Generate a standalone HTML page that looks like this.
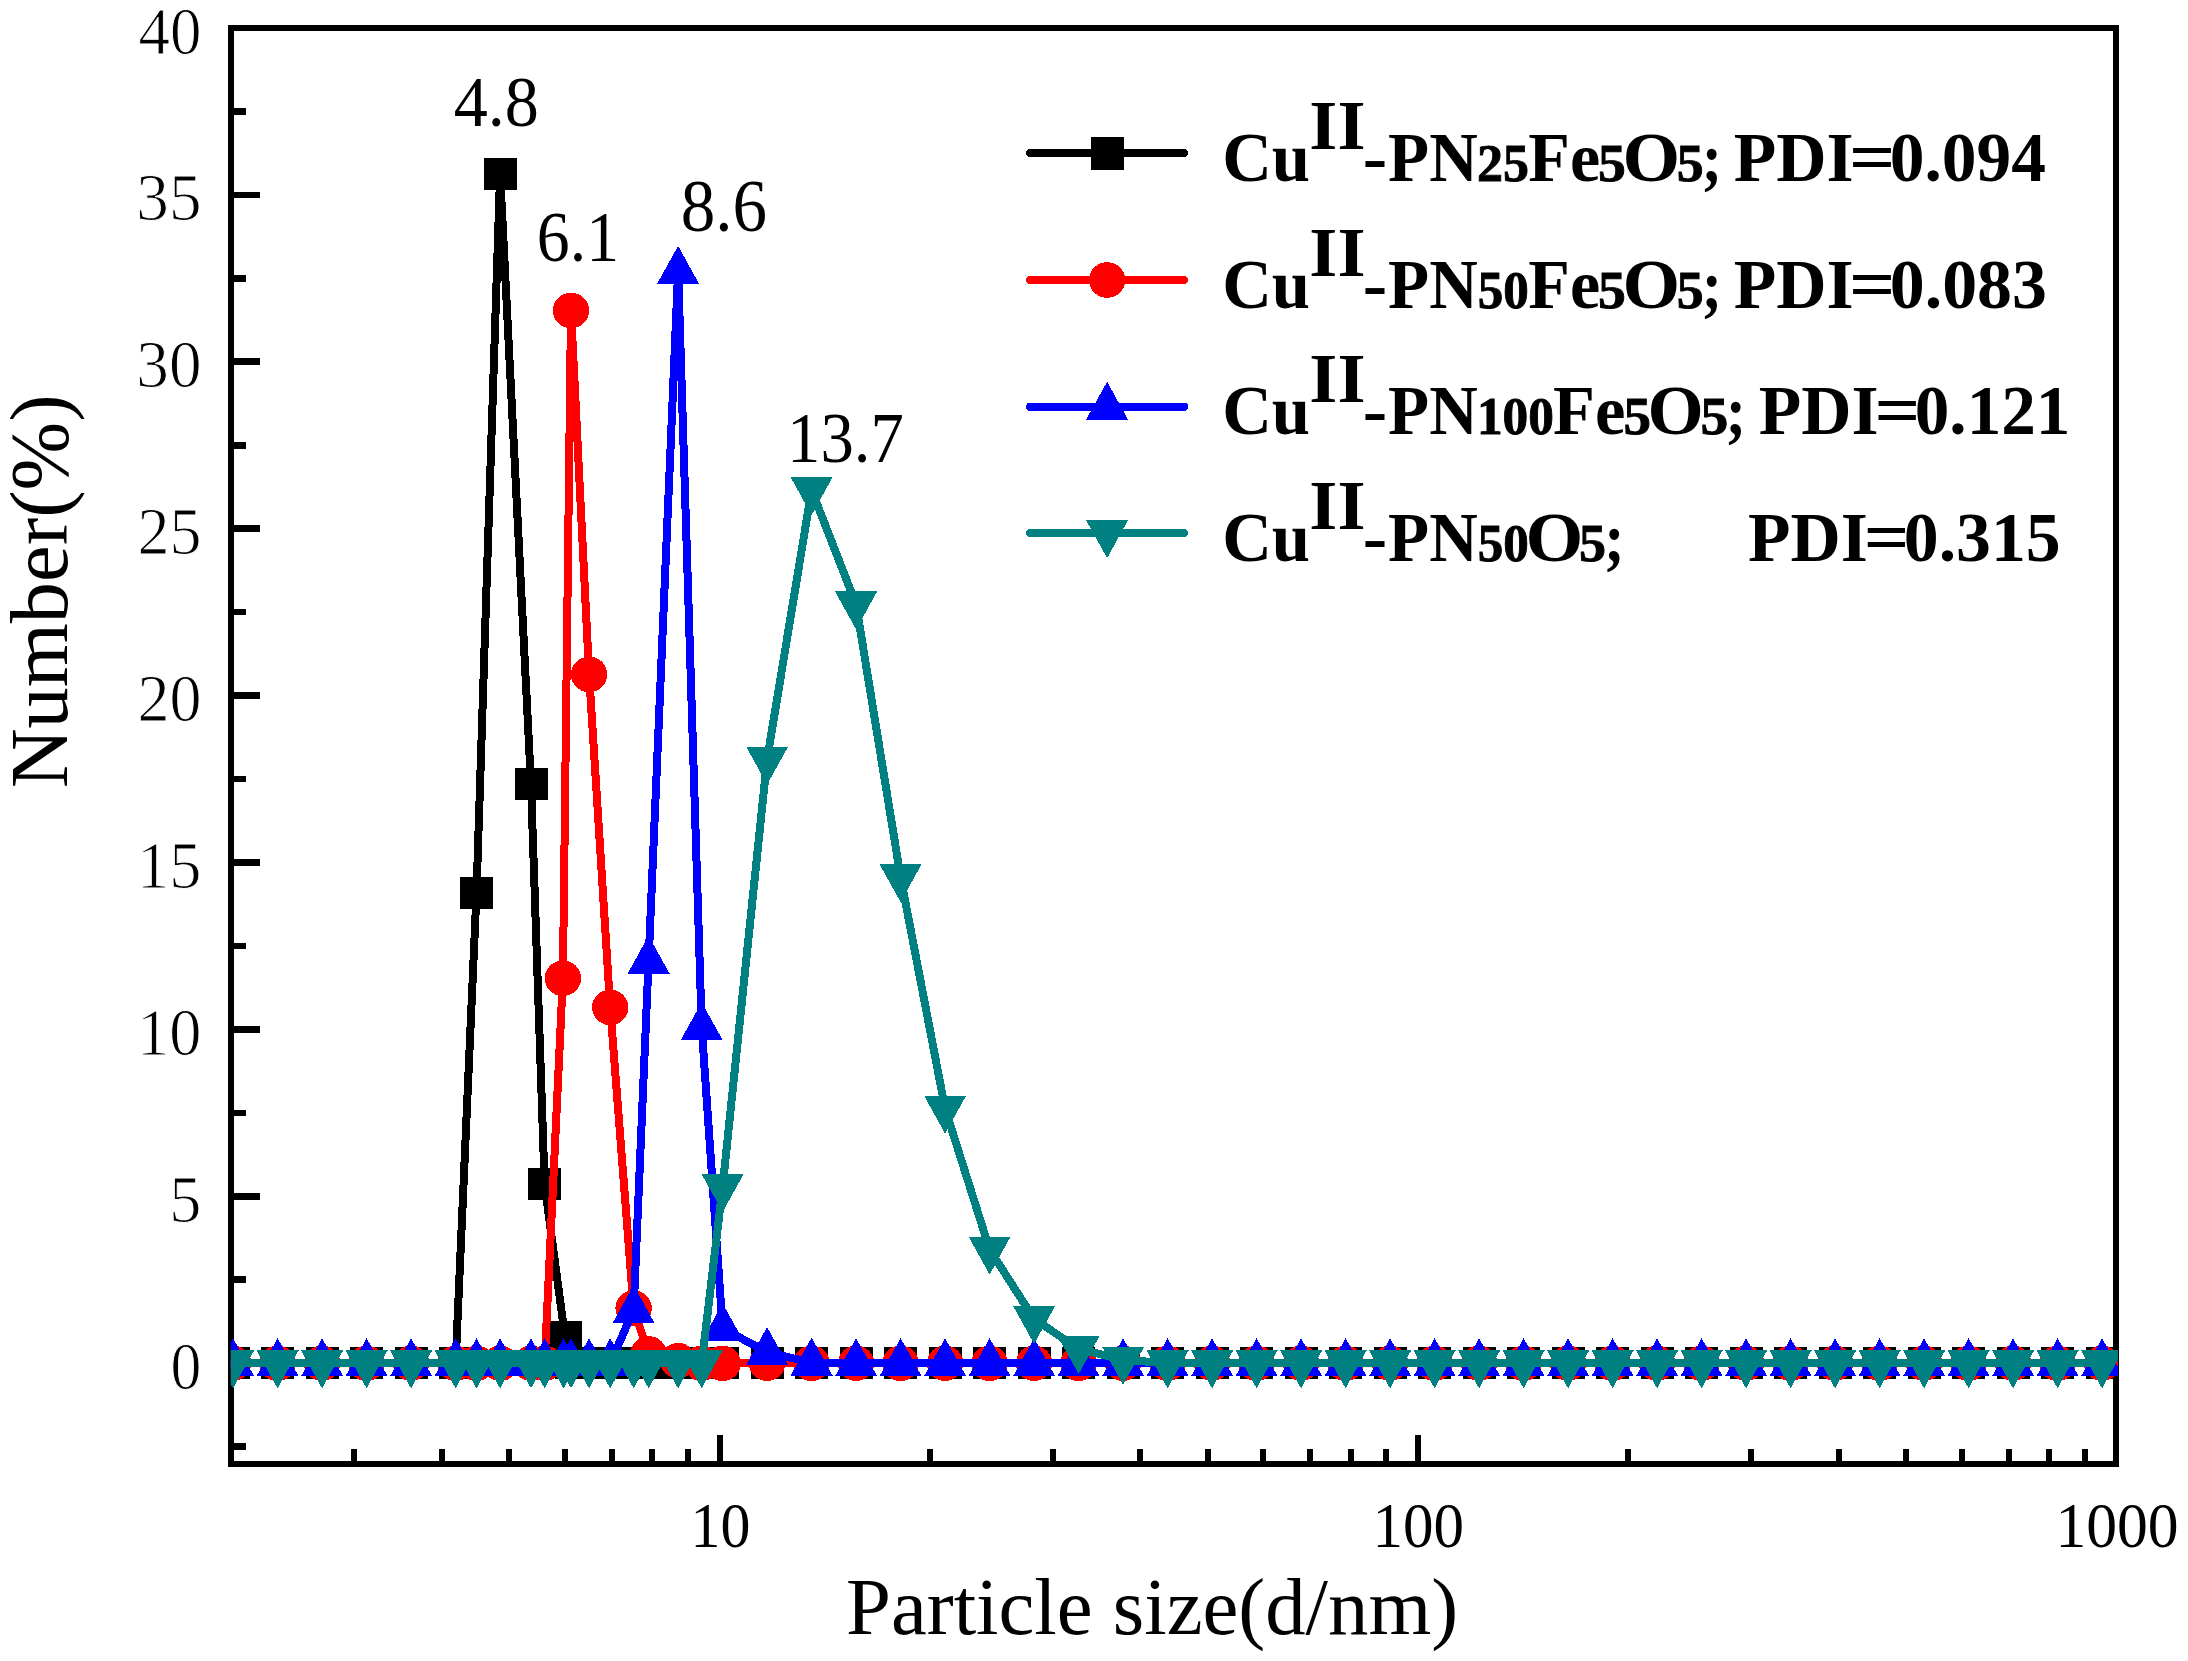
<!DOCTYPE html>
<html lang="en"><head><meta charset="utf-8"><title>Particle size distribution</title>
<style>
html,body{margin:0;padding:0;background:#fff;}
body{width:2188px;height:1661px;overflow:hidden;}
svg{display:block;}
text{font-family:"Liberation Serif","Times New Roman",Times,serif;fill:#000;}
.tk{font-size:61px;}
.ytk{font-size:64px;stroke:#fff;stroke-width:0.9px;}
.pk{font-size:69px;}
.ax{font-size:81px;}
.lg{font-size:70px;font-weight:bold;}
.sb{font-size:50px;font-weight:bold;}
</style></head><body>
<svg width="2188" height="1661" viewBox="0 0 2188 1661">
<rect x="0" y="0" width="2188" height="1661" fill="#ffffff"/>
<defs><clipPath id="plot"><rect x="230.8" y="28" width="1887.2" height="1436"/></clipPath></defs>
<g fill="#000">
<rect x="231" y="1360" width="29" height="6"/>
<rect x="231" y="1193" width="29" height="7"/>
<rect x="231" y="1026" width="29" height="7"/>
<rect x="231" y="859" width="29" height="7"/>
<rect x="231" y="692" width="29" height="7"/>
<rect x="231" y="525" width="29" height="7"/>
<rect x="231" y="358" width="29" height="7"/>
<rect x="231" y="192" width="29" height="6"/>
<rect x="231" y="1443" width="15" height="7"/>
<rect x="231" y="1276" width="15" height="7"/>
<rect x="231" y="1110" width="15" height="6"/>
<rect x="231" y="943" width="15" height="6"/>
<rect x="231" y="776" width="15" height="6"/>
<rect x="231" y="609" width="15" height="6"/>
<rect x="231" y="442" width="15" height="7"/>
<rect x="231" y="275" width="15" height="7"/>
<rect x="231" y="108" width="15" height="7"/>
<rect x="717" y="1435" width="6" height="29"/>
<rect x="1415" y="1435" width="6" height="29"/>
<rect x="351" y="1449" width="6" height="15"/>
<rect x="439" y="1449" width="6" height="15"/>
<rect x="506" y="1449" width="6" height="15"/>
<rect x="562" y="1449" width="6" height="15"/>
<rect x="609" y="1449" width="6" height="15"/>
<rect x="649" y="1449" width="6" height="15"/>
<rect x="685" y="1449" width="6" height="15"/>
<rect x="927" y="1449" width="6" height="15"/>
<rect x="1050" y="1449" width="6" height="15"/>
<rect x="1137" y="1449" width="6" height="15"/>
<rect x="1205" y="1449" width="6" height="15"/>
<rect x="1260" y="1449" width="6" height="15"/>
<rect x="1307" y="1449" width="6" height="15"/>
<rect x="1348" y="1449" width="6" height="15"/>
<rect x="1383" y="1449" width="6" height="15"/>
<rect x="1625" y="1449" width="6" height="15"/>
<rect x="1748" y="1449" width="6" height="15"/>
<rect x="1836" y="1449" width="6" height="15"/>
<rect x="1903" y="1449" width="6" height="15"/>
<rect x="1959" y="1449" width="6" height="15"/>
<rect x="2006" y="1449" width="6" height="15"/>
<rect x="2046" y="1449" width="6" height="15"/>
<rect x="2082" y="1449" width="6" height="15"/>
</g>
<rect x="231" y="28" width="1885" height="1436" fill="none" stroke="#000" stroke-width="6" shape-rendering="crispEdges"/>
<g clip-path="url(#plot)" shape-rendering="crispEdges">
<polyline points="233.1,1363.3 277.6,1363.3 322.1,1363.3 366.6,1363.3 411.1,1363.3 455.6,1363.3 476.5,892.9 500.1,173.8 531,783.9 544.6,1183.9 565,1337 571,1363.3 589.1,1363.3 610.2,1363.3 633.6,1363.3 648.6,1363.3 678.1,1363.3 701.7,1363.3 722.6,1363.3 767.1,1363.3 811.6,1363.3 856.1,1363.3 900.6,1363.3 945.1,1363.3 989.6,1363.3 1034.1,1363.3 1078.6,1363.3 1123.1,1363.3 1167.6,1363.3 1212.1,1363.3 1256.6,1363.3 1301.1,1363.3 1345.6,1363.3 1390.1,1363.3 1434.6,1363.3 1479.1,1363.3 1523.6,1363.3 1568.1,1363.3 1612.6,1363.3 1657.1,1363.3 1701.6,1363.3 1746.1,1363.3 1790.6,1363.3 1835.1,1363.3 1879.6,1363.3 1924.1,1363.3 1968.6,1363.3 2013.1,1363.3 2057.6,1363.3 2102.1,1363.3" fill="none" stroke="#000000" stroke-width="8.0" stroke-linejoin="round" stroke-linecap="round"/>
<rect x="216.8" y="1347.3" width="33" height="32" fill="#000000"/>
<rect x="261.3" y="1347.3" width="33" height="32" fill="#000000"/>
<rect x="305.8" y="1347.3" width="33" height="32" fill="#000000"/>
<rect x="350.3" y="1347.3" width="33" height="32" fill="#000000"/>
<rect x="394.8" y="1347.3" width="33" height="32" fill="#000000"/>
<rect x="439.3" y="1347.3" width="33" height="32" fill="#000000"/>
<rect x="460.2" y="876.9" width="33" height="32" fill="#000000"/>
<rect x="483.8" y="157.8" width="33" height="32" fill="#000000"/>
<rect x="514.7" y="767.9" width="33" height="32" fill="#000000"/>
<rect x="528.3" y="1167.9" width="33" height="32" fill="#000000"/>
<rect x="548.7" y="1321" width="33" height="32" fill="#000000"/>
<rect x="554.7" y="1347.3" width="33" height="32" fill="#000000"/>
<rect x="572.8" y="1347.3" width="33" height="32" fill="#000000"/>
<rect x="593.9" y="1347.3" width="33" height="32" fill="#000000"/>
<rect x="617.3" y="1347.3" width="33" height="32" fill="#000000"/>
<rect x="632.3" y="1347.3" width="33" height="32" fill="#000000"/>
<rect x="661.8" y="1347.3" width="33" height="32" fill="#000000"/>
<rect x="685.4" y="1347.3" width="33" height="32" fill="#000000"/>
<rect x="706.3" y="1347.3" width="33" height="32" fill="#000000"/>
<rect x="750.8" y="1347.3" width="33" height="32" fill="#000000"/>
<rect x="795.3" y="1347.3" width="33" height="32" fill="#000000"/>
<rect x="839.8" y="1347.3" width="33" height="32" fill="#000000"/>
<rect x="884.3" y="1347.3" width="33" height="32" fill="#000000"/>
<rect x="928.8" y="1347.3" width="33" height="32" fill="#000000"/>
<rect x="973.3" y="1347.3" width="33" height="32" fill="#000000"/>
<rect x="1017.8" y="1347.3" width="33" height="32" fill="#000000"/>
<rect x="1062.3" y="1347.3" width="33" height="32" fill="#000000"/>
<rect x="1106.8" y="1347.3" width="33" height="32" fill="#000000"/>
<rect x="1151.3" y="1347.3" width="33" height="32" fill="#000000"/>
<rect x="1195.8" y="1347.3" width="33" height="32" fill="#000000"/>
<rect x="1240.3" y="1347.3" width="33" height="32" fill="#000000"/>
<rect x="1284.8" y="1347.3" width="33" height="32" fill="#000000"/>
<rect x="1329.3" y="1347.3" width="33" height="32" fill="#000000"/>
<rect x="1373.8" y="1347.3" width="33" height="32" fill="#000000"/>
<rect x="1418.3" y="1347.3" width="33" height="32" fill="#000000"/>
<rect x="1462.8" y="1347.3" width="33" height="32" fill="#000000"/>
<rect x="1507.3" y="1347.3" width="33" height="32" fill="#000000"/>
<rect x="1551.8" y="1347.3" width="33" height="32" fill="#000000"/>
<rect x="1596.3" y="1347.3" width="33" height="32" fill="#000000"/>
<rect x="1640.8" y="1347.3" width="33" height="32" fill="#000000"/>
<rect x="1685.3" y="1347.3" width="33" height="32" fill="#000000"/>
<rect x="1729.8" y="1347.3" width="33" height="32" fill="#000000"/>
<rect x="1774.3" y="1347.3" width="33" height="32" fill="#000000"/>
<rect x="1818.8" y="1347.3" width="33" height="32" fill="#000000"/>
<rect x="1863.3" y="1347.3" width="33" height="32" fill="#000000"/>
<rect x="1907.8" y="1347.3" width="33" height="32" fill="#000000"/>
<rect x="1952.3" y="1347.3" width="33" height="32" fill="#000000"/>
<rect x="1996.8" y="1347.3" width="33" height="32" fill="#000000"/>
<rect x="2041.3" y="1347.3" width="33" height="32" fill="#000000"/>
<rect x="2085.8" y="1347.3" width="33" height="32" fill="#000000"/>
<polyline points="233.1,1363.3 277.6,1363.3 322.1,1363.3 366.6,1363.3 411.1,1363.3 455.6,1363.3 476.5,1363.3 500.1,1363.3 531,1363.3 544.6,1363.3 562.9,978.3 571,310.5 589.1,674.4 610.2,1007.4 633.6,1308.2 648.6,1353.9 678.1,1360.7 701.7,1363.3 722.6,1363.3 767.1,1363.3 811.6,1363.3 856.1,1363.3 900.6,1363.3 945.1,1363.3 989.6,1363.3 1034.1,1363.3 1078.6,1363.3 1123.1,1363.3 1167.6,1363.3 1212.1,1363.3 1256.6,1363.3 1301.1,1363.3 1345.6,1363.3 1390.1,1363.3 1434.6,1363.3 1479.1,1363.3 1523.6,1363.3 1568.1,1363.3 1612.6,1363.3 1657.1,1363.3 1701.6,1363.3 1746.1,1363.3 1790.6,1363.3 1835.1,1363.3 1879.6,1363.3 1924.1,1363.3 1968.6,1363.3 2013.1,1363.3 2057.6,1363.3 2102.1,1363.3" fill="none" stroke="#ff0000" stroke-width="8.0" stroke-linejoin="round" stroke-linecap="round"/>
<ellipse cx="233.1" cy="1363.3" rx="18.2" ry="17.8" fill="#ff0000"/>
<ellipse cx="277.6" cy="1363.3" rx="18.2" ry="17.8" fill="#ff0000"/>
<ellipse cx="322.1" cy="1363.3" rx="18.2" ry="17.8" fill="#ff0000"/>
<ellipse cx="366.6" cy="1363.3" rx="18.2" ry="17.8" fill="#ff0000"/>
<ellipse cx="411.1" cy="1363.3" rx="18.2" ry="17.8" fill="#ff0000"/>
<ellipse cx="455.6" cy="1363.3" rx="18.2" ry="17.8" fill="#ff0000"/>
<ellipse cx="476.5" cy="1363.3" rx="18.2" ry="17.8" fill="#ff0000"/>
<ellipse cx="500.1" cy="1363.3" rx="18.2" ry="17.8" fill="#ff0000"/>
<ellipse cx="531" cy="1363.3" rx="18.2" ry="17.8" fill="#ff0000"/>
<ellipse cx="544.6" cy="1363.3" rx="18.2" ry="17.8" fill="#ff0000"/>
<ellipse cx="562.9" cy="978.3" rx="18.2" ry="17.8" fill="#ff0000"/>
<ellipse cx="571" cy="310.5" rx="18.2" ry="17.8" fill="#ff0000"/>
<ellipse cx="589.1" cy="674.4" rx="18.2" ry="17.8" fill="#ff0000"/>
<ellipse cx="610.2" cy="1007.4" rx="18.2" ry="17.8" fill="#ff0000"/>
<ellipse cx="633.6" cy="1308.2" rx="18.2" ry="17.8" fill="#ff0000"/>
<ellipse cx="648.6" cy="1353.9" rx="18.2" ry="17.8" fill="#ff0000"/>
<ellipse cx="678.1" cy="1360.7" rx="18.2" ry="17.8" fill="#ff0000"/>
<ellipse cx="701.7" cy="1363.3" rx="18.2" ry="17.8" fill="#ff0000"/>
<ellipse cx="722.6" cy="1363.3" rx="18.2" ry="17.8" fill="#ff0000"/>
<ellipse cx="767.1" cy="1363.3" rx="18.2" ry="17.8" fill="#ff0000"/>
<ellipse cx="811.6" cy="1363.3" rx="18.2" ry="17.8" fill="#ff0000"/>
<ellipse cx="856.1" cy="1363.3" rx="18.2" ry="17.8" fill="#ff0000"/>
<ellipse cx="900.6" cy="1363.3" rx="18.2" ry="17.8" fill="#ff0000"/>
<ellipse cx="945.1" cy="1363.3" rx="18.2" ry="17.8" fill="#ff0000"/>
<ellipse cx="989.6" cy="1363.3" rx="18.2" ry="17.8" fill="#ff0000"/>
<ellipse cx="1034.1" cy="1363.3" rx="18.2" ry="17.8" fill="#ff0000"/>
<ellipse cx="1078.6" cy="1363.3" rx="18.2" ry="17.8" fill="#ff0000"/>
<ellipse cx="1123.1" cy="1363.3" rx="18.2" ry="17.8" fill="#ff0000"/>
<ellipse cx="1167.6" cy="1363.3" rx="18.2" ry="17.8" fill="#ff0000"/>
<ellipse cx="1212.1" cy="1363.3" rx="18.2" ry="17.8" fill="#ff0000"/>
<ellipse cx="1256.6" cy="1363.3" rx="18.2" ry="17.8" fill="#ff0000"/>
<ellipse cx="1301.1" cy="1363.3" rx="18.2" ry="17.8" fill="#ff0000"/>
<ellipse cx="1345.6" cy="1363.3" rx="18.2" ry="17.8" fill="#ff0000"/>
<ellipse cx="1390.1" cy="1363.3" rx="18.2" ry="17.8" fill="#ff0000"/>
<ellipse cx="1434.6" cy="1363.3" rx="18.2" ry="17.8" fill="#ff0000"/>
<ellipse cx="1479.1" cy="1363.3" rx="18.2" ry="17.8" fill="#ff0000"/>
<ellipse cx="1523.6" cy="1363.3" rx="18.2" ry="17.8" fill="#ff0000"/>
<ellipse cx="1568.1" cy="1363.3" rx="18.2" ry="17.8" fill="#ff0000"/>
<ellipse cx="1612.6" cy="1363.3" rx="18.2" ry="17.8" fill="#ff0000"/>
<ellipse cx="1657.1" cy="1363.3" rx="18.2" ry="17.8" fill="#ff0000"/>
<ellipse cx="1701.6" cy="1363.3" rx="18.2" ry="17.8" fill="#ff0000"/>
<ellipse cx="1746.1" cy="1363.3" rx="18.2" ry="17.8" fill="#ff0000"/>
<ellipse cx="1790.6" cy="1363.3" rx="18.2" ry="17.8" fill="#ff0000"/>
<ellipse cx="1835.1" cy="1363.3" rx="18.2" ry="17.8" fill="#ff0000"/>
<ellipse cx="1879.6" cy="1363.3" rx="18.2" ry="17.8" fill="#ff0000"/>
<ellipse cx="1924.1" cy="1363.3" rx="18.2" ry="17.8" fill="#ff0000"/>
<ellipse cx="1968.6" cy="1363.3" rx="18.2" ry="17.8" fill="#ff0000"/>
<ellipse cx="2013.1" cy="1363.3" rx="18.2" ry="17.8" fill="#ff0000"/>
<ellipse cx="2057.6" cy="1363.3" rx="18.2" ry="17.8" fill="#ff0000"/>
<ellipse cx="2102.1" cy="1363.3" rx="18.2" ry="17.8" fill="#ff0000"/>
<polyline points="233.1,1363.3 277.6,1363.3 322.1,1363.3 366.6,1363.3 411.1,1363.3 455.6,1363.3 476.5,1363.3 500.1,1363.3 531,1363.3 544.6,1363.3 563.5,1363.3 571,1363.3 589.1,1363.3 610.2,1363.3 633.6,1310.3 648.6,960.8 678.1,271 701.7,1027.3 722.6,1328.4 767.1,1352.1 811.6,1362.7 856.1,1363.3 900.6,1363.3 945.1,1363.3 989.6,1363.3 1034.1,1363.3 1078.6,1363.3 1123.1,1363.3 1167.6,1363.3 1212.1,1363.3 1256.6,1363.3 1301.1,1363.3 1345.6,1363.3 1390.1,1363.3 1434.6,1363.3 1479.1,1363.3 1523.6,1363.3 1568.1,1363.3 1612.6,1363.3 1657.1,1363.3 1701.6,1363.3 1746.1,1363.3 1790.6,1363.3 1835.1,1363.3 1879.6,1363.3 1924.1,1363.3 1968.6,1363.3 2013.1,1363.3 2057.6,1363.3 2102.1,1363.3" fill="none" stroke="#0000ff" stroke-width="8.0" stroke-linejoin="round" stroke-linecap="round"/>
<polygon points="233.1,1338.2 212,1376.3 254.2,1376.3" fill="#0000ff"/>
<polygon points="277.6,1338.2 256.5,1376.3 298.7,1376.3" fill="#0000ff"/>
<polygon points="322.1,1338.2 301,1376.3 343.2,1376.3" fill="#0000ff"/>
<polygon points="366.6,1338.2 345.5,1376.3 387.7,1376.3" fill="#0000ff"/>
<polygon points="411.1,1338.2 390,1376.3 432.2,1376.3" fill="#0000ff"/>
<polygon points="455.6,1338.2 434.5,1376.3 476.7,1376.3" fill="#0000ff"/>
<polygon points="476.5,1338.2 455.4,1376.3 497.6,1376.3" fill="#0000ff"/>
<polygon points="500.1,1338.2 479,1376.3 521.2,1376.3" fill="#0000ff"/>
<polygon points="531,1338.2 509.9,1376.3 552.1,1376.3" fill="#0000ff"/>
<polygon points="544.6,1338.2 523.5,1376.3 565.7,1376.3" fill="#0000ff"/>
<polygon points="563.5,1338.2 542.4,1376.3 584.6,1376.3" fill="#0000ff"/>
<polygon points="571,1338.2 549.9,1376.3 592.1,1376.3" fill="#0000ff"/>
<polygon points="589.1,1338.2 568,1376.3 610.2,1376.3" fill="#0000ff"/>
<polygon points="610.2,1338.2 589.1,1376.3 631.3,1376.3" fill="#0000ff"/>
<polygon points="633.6,1285.2 612.5,1323.3 654.7,1323.3" fill="#0000ff"/>
<polygon points="648.6,935.7 627.5,973.8 669.7,973.8" fill="#0000ff"/>
<polygon points="678.1,245.9 657,284 699.2,284" fill="#0000ff"/>
<polygon points="701.7,1002.2 680.6,1040.3 722.8,1040.3" fill="#0000ff"/>
<polygon points="722.6,1303.3 701.5,1341.4 743.7,1341.4" fill="#0000ff"/>
<polygon points="767.1,1327 746,1365.1 788.2,1365.1" fill="#0000ff"/>
<polygon points="811.6,1337.6 790.5,1375.7 832.7,1375.7" fill="#0000ff"/>
<polygon points="856.1,1338.2 835,1376.3 877.2,1376.3" fill="#0000ff"/>
<polygon points="900.6,1338.2 879.5,1376.3 921.7,1376.3" fill="#0000ff"/>
<polygon points="945.1,1338.2 924,1376.3 966.2,1376.3" fill="#0000ff"/>
<polygon points="989.6,1338.2 968.5,1376.3 1010.7,1376.3" fill="#0000ff"/>
<polygon points="1034.1,1338.2 1013,1376.3 1055.2,1376.3" fill="#0000ff"/>
<polygon points="1078.6,1338.2 1057.5,1376.3 1099.7,1376.3" fill="#0000ff"/>
<polygon points="1123.1,1338.2 1102,1376.3 1144.2,1376.3" fill="#0000ff"/>
<polygon points="1167.6,1338.2 1146.5,1376.3 1188.7,1376.3" fill="#0000ff"/>
<polygon points="1212.1,1338.2 1191,1376.3 1233.2,1376.3" fill="#0000ff"/>
<polygon points="1256.6,1338.2 1235.5,1376.3 1277.7,1376.3" fill="#0000ff"/>
<polygon points="1301.1,1338.2 1280,1376.3 1322.2,1376.3" fill="#0000ff"/>
<polygon points="1345.6,1338.2 1324.5,1376.3 1366.7,1376.3" fill="#0000ff"/>
<polygon points="1390.1,1338.2 1369,1376.3 1411.2,1376.3" fill="#0000ff"/>
<polygon points="1434.6,1338.2 1413.5,1376.3 1455.7,1376.3" fill="#0000ff"/>
<polygon points="1479.1,1338.2 1458,1376.3 1500.2,1376.3" fill="#0000ff"/>
<polygon points="1523.6,1338.2 1502.5,1376.3 1544.7,1376.3" fill="#0000ff"/>
<polygon points="1568.1,1338.2 1547,1376.3 1589.2,1376.3" fill="#0000ff"/>
<polygon points="1612.6,1338.2 1591.5,1376.3 1633.7,1376.3" fill="#0000ff"/>
<polygon points="1657.1,1338.2 1636,1376.3 1678.2,1376.3" fill="#0000ff"/>
<polygon points="1701.6,1338.2 1680.5,1376.3 1722.7,1376.3" fill="#0000ff"/>
<polygon points="1746.1,1338.2 1725,1376.3 1767.2,1376.3" fill="#0000ff"/>
<polygon points="1790.6,1338.2 1769.5,1376.3 1811.7,1376.3" fill="#0000ff"/>
<polygon points="1835.1,1338.2 1814,1376.3 1856.2,1376.3" fill="#0000ff"/>
<polygon points="1879.6,1338.2 1858.5,1376.3 1900.7,1376.3" fill="#0000ff"/>
<polygon points="1924.1,1338.2 1903,1376.3 1945.2,1376.3" fill="#0000ff"/>
<polygon points="1968.6,1338.2 1947.5,1376.3 1989.7,1376.3" fill="#0000ff"/>
<polygon points="2013.1,1338.2 1992,1376.3 2034.2,1376.3" fill="#0000ff"/>
<polygon points="2057.6,1338.2 2036.5,1376.3 2078.7,1376.3" fill="#0000ff"/>
<polygon points="2102.1,1338.2 2081,1376.3 2123.2,1376.3" fill="#0000ff"/>
<polyline points="233.1,1363.3 277.6,1363.3 322.1,1363.3 366.6,1363.3 411.1,1363.3 455.6,1363.3 476.5,1363.3 500.1,1363.3 531,1363.3 544.6,1363.3 563.5,1363.3 571,1363.3 589.1,1363.3 610.2,1363.3 633.6,1363.3 648.6,1363.3 678.1,1363.3 701.7,1363.3 722.6,1187 767.1,759.5 811.6,490 856.1,604.4 900.6,877.1 945.1,1108.6 989.6,1249.5 1034.1,1318.9 1078.6,1348.9 1123.1,1359.7 1167.6,1363.3 1212.1,1363.3 1256.6,1363.3 1301.1,1363.3 1345.6,1363.3 1390.1,1363.3 1434.6,1363.3 1479.1,1363.3 1523.6,1363.3 1568.1,1363.3 1612.6,1363.3 1657.1,1363.3 1701.6,1363.3 1746.1,1363.3 1790.6,1363.3 1835.1,1363.3 1879.6,1363.3 1924.1,1363.3 1968.6,1363.3 2013.1,1363.3 2057.6,1363.3 2102.1,1363.3" fill="none" stroke="#008080" stroke-width="8.0" stroke-linejoin="round" stroke-linecap="round"/>
<polygon points="233.1,1388.4 212,1350.3 254.2,1350.3" fill="#008080"/>
<polygon points="277.6,1388.4 256.5,1350.3 298.7,1350.3" fill="#008080"/>
<polygon points="322.1,1388.4 301,1350.3 343.2,1350.3" fill="#008080"/>
<polygon points="366.6,1388.4 345.5,1350.3 387.7,1350.3" fill="#008080"/>
<polygon points="411.1,1388.4 390,1350.3 432.2,1350.3" fill="#008080"/>
<polygon points="455.6,1388.4 434.5,1350.3 476.7,1350.3" fill="#008080"/>
<polygon points="476.5,1388.4 455.4,1350.3 497.6,1350.3" fill="#008080"/>
<polygon points="500.1,1388.4 479,1350.3 521.2,1350.3" fill="#008080"/>
<polygon points="531,1388.4 509.9,1350.3 552.1,1350.3" fill="#008080"/>
<polygon points="544.6,1388.4 523.5,1350.3 565.7,1350.3" fill="#008080"/>
<polygon points="563.5,1388.4 542.4,1350.3 584.6,1350.3" fill="#008080"/>
<polygon points="571,1388.4 549.9,1350.3 592.1,1350.3" fill="#008080"/>
<polygon points="589.1,1388.4 568,1350.3 610.2,1350.3" fill="#008080"/>
<polygon points="610.2,1388.4 589.1,1350.3 631.3,1350.3" fill="#008080"/>
<polygon points="633.6,1388.4 612.5,1350.3 654.7,1350.3" fill="#008080"/>
<polygon points="648.6,1388.4 627.5,1350.3 669.7,1350.3" fill="#008080"/>
<polygon points="678.1,1388.4 657,1350.3 699.2,1350.3" fill="#008080"/>
<polygon points="701.7,1388.4 680.6,1350.3 722.8,1350.3" fill="#008080"/>
<polygon points="722.6,1212.1 701.5,1174 743.7,1174" fill="#008080"/>
<polygon points="767.1,784.6 746,746.5 788.2,746.5" fill="#008080"/>
<polygon points="811.6,515.1 790.5,477 832.7,477" fill="#008080"/>
<polygon points="856.1,629.5 835,591.4 877.2,591.4" fill="#008080"/>
<polygon points="900.6,902.2 879.5,864.1 921.7,864.1" fill="#008080"/>
<polygon points="945.1,1133.7 924,1095.6 966.2,1095.6" fill="#008080"/>
<polygon points="989.6,1274.6 968.5,1236.5 1010.7,1236.5" fill="#008080"/>
<polygon points="1034.1,1344 1013,1305.9 1055.2,1305.9" fill="#008080"/>
<polygon points="1078.6,1374 1057.5,1335.9 1099.7,1335.9" fill="#008080"/>
<polygon points="1123.1,1384.8 1102,1346.7 1144.2,1346.7" fill="#008080"/>
<polygon points="1167.6,1388.4 1146.5,1350.3 1188.7,1350.3" fill="#008080"/>
<polygon points="1212.1,1388.4 1191,1350.3 1233.2,1350.3" fill="#008080"/>
<polygon points="1256.6,1388.4 1235.5,1350.3 1277.7,1350.3" fill="#008080"/>
<polygon points="1301.1,1388.4 1280,1350.3 1322.2,1350.3" fill="#008080"/>
<polygon points="1345.6,1388.4 1324.5,1350.3 1366.7,1350.3" fill="#008080"/>
<polygon points="1390.1,1388.4 1369,1350.3 1411.2,1350.3" fill="#008080"/>
<polygon points="1434.6,1388.4 1413.5,1350.3 1455.7,1350.3" fill="#008080"/>
<polygon points="1479.1,1388.4 1458,1350.3 1500.2,1350.3" fill="#008080"/>
<polygon points="1523.6,1388.4 1502.5,1350.3 1544.7,1350.3" fill="#008080"/>
<polygon points="1568.1,1388.4 1547,1350.3 1589.2,1350.3" fill="#008080"/>
<polygon points="1612.6,1388.4 1591.5,1350.3 1633.7,1350.3" fill="#008080"/>
<polygon points="1657.1,1388.4 1636,1350.3 1678.2,1350.3" fill="#008080"/>
<polygon points="1701.6,1388.4 1680.5,1350.3 1722.7,1350.3" fill="#008080"/>
<polygon points="1746.1,1388.4 1725,1350.3 1767.2,1350.3" fill="#008080"/>
<polygon points="1790.6,1388.4 1769.5,1350.3 1811.7,1350.3" fill="#008080"/>
<polygon points="1835.1,1388.4 1814,1350.3 1856.2,1350.3" fill="#008080"/>
<polygon points="1879.6,1388.4 1858.5,1350.3 1900.7,1350.3" fill="#008080"/>
<polygon points="1924.1,1388.4 1903,1350.3 1945.2,1350.3" fill="#008080"/>
<polygon points="1968.6,1388.4 1947.5,1350.3 1989.7,1350.3" fill="#008080"/>
<polygon points="2013.1,1388.4 1992,1350.3 2034.2,1350.3" fill="#008080"/>
<polygon points="2057.6,1388.4 2036.5,1350.3 2078.7,1350.3" fill="#008080"/>
<polygon points="2102.1,1388.4 2081,1350.3 2123.2,1350.3" fill="#008080"/>
</g>
<g shape-rendering="crispEdges">
<line x1="1030" y1="153" x2="1184.2" y2="153" stroke="#000000" stroke-width="8.0" stroke-linecap="round"/>
<rect x="1091" y="136.9" width="33" height="33" fill="#000000"/>
<line x1="1030" y1="280" x2="1184.2" y2="280" stroke="#ff0000" stroke-width="8.0" stroke-linecap="round"/>
<ellipse cx="1107.1" cy="280" rx="18.2" ry="17.8" fill="#ff0000"/>
<line x1="1030" y1="406.8" x2="1184.2" y2="406.8" stroke="#0000ff" stroke-width="8.0" stroke-linecap="round"/>
<polygon points="1107.1,381.7 1086,419.8 1128.2,419.8" fill="#0000ff"/>
<line x1="1030" y1="533" x2="1184.2" y2="533" stroke="#008080" stroke-width="8.0" stroke-linecap="round"/>
<polygon points="1107.1,558.1 1086,520 1128.2,520" fill="#008080"/>
</g>
<text class="ytk" transform="translate(170.404 1388.75) scale(0.965 1.059)">0</text>
<text class="ytk" transform="translate(169.284 1221.85) scale(1.004 1.059)">5</text>
<text class="ytk" transform="translate(137.061 1054.95) scale(1.006 1.059)">10</text>
<text class="ytk" transform="translate(137.061 888.05) scale(1.006 1.059)">15</text>
<text class="ytk" transform="translate(137.4 721.15) scale(1 1.059)">20</text>
<text class="ytk" transform="translate(137.4 554.25) scale(1 1.059)">25</text>
<text class="ytk" transform="translate(136.33 387.35) scale(1.018 1.059)">30</text>
<text class="ytk" transform="translate(136.33 220.45) scale(1.018 1.059)">35</text>
<text class="ytk" transform="translate(138.434 53.55) scale(0.983 1.059)">40</text>
<text class="tk" transform="translate(690.493 1547) scale(0.981 1.038)">10</text>
<text class="tk" transform="translate(1372.494 1547) scale(1.001 1.038)">100</text>
<text class="tk" transform="translate(2055.452 1547) scale(1.01 1.038)">1000</text>
<text class="ax" transform="translate(846.006 1634.433) scale(0.997 0.986)">Particle size(d/nm)</text>
<text class="ax" transform="translate(66.59 788.037) rotate(-90) scale(1.018 1.012)">Number(%)</text>
<text class="pk" transform="translate(453.712 126.3) scale(0.988 1.054)">4.8</text>
<text class="pk" transform="translate(680.696 231) scale(1.001 1.059)">8.6</text>
<text class="pk" transform="translate(536.841 260.9) scale(0.953 1.048)">6.1</text>
<text class="pk" transform="translate(787.102 461.8) scale(0.966 1.043)">13.7</text>
<text class="lg"><tspan x="1222.153" y="181.2" font-size="70.457" textLength="87.905" lengthAdjust="spacingAndGlyphs">Cu</tspan><tspan x="1309.34" y="149.2" font-size="70.457" textLength="56.119" lengthAdjust="spacingAndGlyphs">II</tspan><tspan x="1362.75" y="181.2" font-size="70.457" textLength="24.478" lengthAdjust="spacingAndGlyphs">-</tspan><tspan x="1388.038" y="181.2" font-size="70.457" textLength="89.724" lengthAdjust="spacingAndGlyphs">PN</tspan><tspan x="1476.922" y="181.2" font-size="53.333" textLength="51.957" lengthAdjust="spacingAndGlyphs" stroke="#000" stroke-width="0.9">25</tspan><tspan x="1528.327" y="181.2" font-size="70.457" textLength="71.852" lengthAdjust="spacingAndGlyphs">Fe</tspan><tspan x="1597.971" y="181.2" font-size="53.333" textLength="27.857" lengthAdjust="spacingAndGlyphs" stroke="#000" stroke-width="0.9">5</tspan><tspan x="1622.425" y="181.2" font-size="70.457" textLength="57.63" lengthAdjust="spacingAndGlyphs">O</tspan><tspan x="1676.748" y="181.2" font-size="53.333" textLength="26.905" lengthAdjust="spacingAndGlyphs" stroke="#000" stroke-width="0.9">5</tspan><tspan x="1701.823" y="181.2" font-size="70.457" textLength="20.264" lengthAdjust="spacingAndGlyphs">;</tspan> <tspan x="1733.704" y="181.2" font-size="70.457" textLength="120.047" lengthAdjust="spacingAndGlyphs">PDI</tspan><tspan x="1849.109" y="181.2" font-size="70.457" textLength="46.418" lengthAdjust="spacingAndGlyphs">=</tspan><tspan x="1889.724" y="181.2" font-size="70.457" textLength="156.265" lengthAdjust="spacingAndGlyphs">0.094</tspan></text>
<text class="lg"><tspan x="1222.153" y="308.1" font-size="70.457" textLength="87.905" lengthAdjust="spacingAndGlyphs">Cu</tspan><tspan x="1309.34" y="276.1" font-size="70.457" textLength="56.119" lengthAdjust="spacingAndGlyphs">II</tspan><tspan x="1362.75" y="308.1" font-size="70.457" textLength="24.478" lengthAdjust="spacingAndGlyphs">-</tspan><tspan x="1388.038" y="308.1" font-size="70.457" textLength="89.724" lengthAdjust="spacingAndGlyphs">PN</tspan><tspan x="1477.757" y="308.1" font-size="53.333" textLength="51.087" lengthAdjust="spacingAndGlyphs" stroke="#000" stroke-width="0.9">50</tspan><tspan x="1528.327" y="308.1" font-size="70.457" textLength="71.852" lengthAdjust="spacingAndGlyphs">Fe</tspan><tspan x="1597.971" y="308.1" font-size="53.333" textLength="27.857" lengthAdjust="spacingAndGlyphs" stroke="#000" stroke-width="0.9">5</tspan><tspan x="1622.425" y="308.1" font-size="70.457" textLength="57.63" lengthAdjust="spacingAndGlyphs">O</tspan><tspan x="1676.748" y="308.1" font-size="53.333" textLength="26.905" lengthAdjust="spacingAndGlyphs" stroke="#000" stroke-width="0.9">5</tspan><tspan x="1701.823" y="308.1" font-size="70.457" textLength="20.264" lengthAdjust="spacingAndGlyphs">;</tspan> <tspan x="1733.704" y="308.1" font-size="70.457" textLength="120.047" lengthAdjust="spacingAndGlyphs">PDI</tspan><tspan x="1849.109" y="308.1" font-size="70.457" textLength="46.418" lengthAdjust="spacingAndGlyphs">=</tspan><tspan x="1889.704" y="308.1" font-size="70.457" textLength="157.293" lengthAdjust="spacingAndGlyphs">0.083</tspan></text>
<text class="lg"><tspan x="1222.153" y="434" font-size="70.457" textLength="87.905" lengthAdjust="spacingAndGlyphs">Cu</tspan><tspan x="1309.34" y="402" font-size="70.457" textLength="56.119" lengthAdjust="spacingAndGlyphs">II</tspan><tspan x="1362.75" y="434" font-size="70.457" textLength="24.478" lengthAdjust="spacingAndGlyphs">-</tspan><tspan x="1388.038" y="434" font-size="70.457" textLength="89.724" lengthAdjust="spacingAndGlyphs">PN</tspan><tspan x="1476.89" y="434" font-size="53.333" textLength="77.065" lengthAdjust="spacingAndGlyphs" stroke="#000" stroke-width="0.9">100</tspan><tspan x="1553.02" y="434" font-size="70.457" textLength="72.372" lengthAdjust="spacingAndGlyphs">Fe</tspan><tspan x="1623.4" y="434" font-size="53.333" textLength="27.5" lengthAdjust="spacingAndGlyphs" stroke="#000" stroke-width="0.9">5</tspan><tspan x="1647.6" y="434" font-size="70.457" textLength="56.268" lengthAdjust="spacingAndGlyphs">O</tspan><tspan x="1700.581" y="434" font-size="53.333" textLength="27.738" lengthAdjust="spacingAndGlyphs" stroke="#000" stroke-width="0.9">5</tspan><tspan x="1725.723" y="434" font-size="70.457" textLength="20.264" lengthAdjust="spacingAndGlyphs">;</tspan> <tspan x="1758.705" y="434" font-size="70.457" textLength="119.944" lengthAdjust="spacingAndGlyphs">PDI</tspan><tspan x="1874.455" y="434" font-size="70.457" textLength="45.814" lengthAdjust="spacingAndGlyphs">=</tspan><tspan x="1914.734" y="434" font-size="70.457" textLength="155.727" lengthAdjust="spacingAndGlyphs">0.121</tspan></text>
<text class="lg"><tspan x="1222.153" y="561.1" font-size="70.457" textLength="87.905" lengthAdjust="spacingAndGlyphs">Cu</tspan><tspan x="1309.34" y="529.1" font-size="70.457" textLength="56.119" lengthAdjust="spacingAndGlyphs">II</tspan><tspan x="1362.75" y="561.1" font-size="70.457" textLength="24.478" lengthAdjust="spacingAndGlyphs">-</tspan><tspan x="1388.038" y="561.1" font-size="70.457" textLength="89.724" lengthAdjust="spacingAndGlyphs">PN</tspan><tspan x="1477.757" y="561.1" font-size="53.333" textLength="51.087" lengthAdjust="spacingAndGlyphs" stroke="#000" stroke-width="0.9">50</tspan><tspan x="1525.412" y="561.1" font-size="70.457" textLength="57.856" lengthAdjust="spacingAndGlyphs">O</tspan><tspan x="1579.138" y="561.1" font-size="53.333" textLength="27.024" lengthAdjust="spacingAndGlyphs" stroke="#000" stroke-width="0.9">5</tspan><tspan x="1604.223" y="561.1" font-size="70.457" textLength="20.264" lengthAdjust="spacingAndGlyphs">;</tspan> <tspan x="1748.007" y="561.1" font-size="70.457" textLength="119.738" lengthAdjust="spacingAndGlyphs">PDI</tspan><tspan x="1863.664" y="561.1" font-size="70.457" textLength="45.693" lengthAdjust="spacingAndGlyphs">=</tspan><tspan x="1903.812" y="561.1" font-size="70.457" textLength="156.878" lengthAdjust="spacingAndGlyphs">0.315</tspan></text>
</svg></body></html>
